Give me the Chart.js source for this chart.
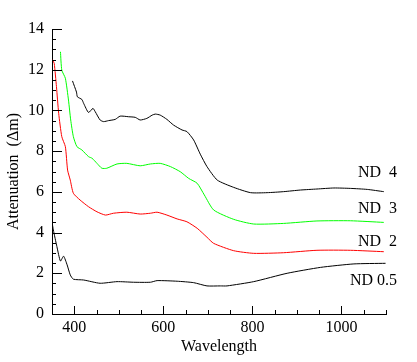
<!DOCTYPE html>
<html>
<head>
<meta charset="utf-8">
<script src="https://cdn.jsdelivr.net/npm/chart.js@4/dist/chart.umd.min.js"></script>
<style>
  html, body { margin: 0; padding: 0; background: #fff; }
  #wrap { width: 417px; height: 362px; }
</style>
</head>
<body>
<div id="wrap"><canvas id="attChart"></canvas></div>
<script>
// ----- data -----
const nd4X = [396, 405, 407, 417, 421, 432, 442, 447, 458, 466, 477, 492, 503, 522, 537, 548, 563, 575, 582, 593, 608, 623, 642, 653, 668, 683, 698, 721, 758, 796, 833, 870, 908, 945, 983, 1020, 1058, 1095];
const nd4Y = [11.45, 10.9, 10.67, 10.54, 10.35, 9.9, 10.1, 9.94, 9.53, 9.45, 9.5, 9.56, 9.72, 9.69, 9.66, 9.53, 9.61, 9.77, 9.82, 9.77, 9.56, 9.28, 9.04, 8.96, 8.55, 7.85, 7.24, 6.58, 6.22, 5.96, 5.96, 6.01, 6.09, 6.14, 6.19, 6.17, 6.12, 6.01];

const nd3X = [369, 372, 380, 387, 392, 398, 406, 417, 432, 440, 451, 462, 473, 496, 518, 548, 571, 593, 616, 638, 657, 676, 692, 713, 758, 803, 870, 945, 1020, 1095];
const nd3Y = [12.88, 11.98, 11.58, 10.51, 9.53, 8.71, 8.22, 8.06, 7.73, 7.65, 7.4, 7.16, 7.16, 7.37, 7.4, 7.28, 7.37, 7.4, 7.24, 6.99, 6.66, 6.42, 5.85, 5.11, 4.65, 4.42, 4.45, 4.57, 4.58, 4.5];

const nd2X = [350, 352, 355, 360, 365, 372, 380, 385, 391, 398, 413, 432, 451, 470, 488, 518, 548, 571, 586, 608, 631, 653, 676, 698, 713, 758, 803, 870, 945, 1020, 1095];
const nd2Y = [12.5, 12.45, 12.31, 11.17, 9.86, 8.71, 8.22, 7.07, 6.58, 5.93, 5.6, 5.27, 5.02, 4.86, 4.95, 5.0, 4.91, 4.95, 5.0, 4.86, 4.67, 4.53, 4.21, 3.77, 3.47, 3.11, 2.98, 3.01, 3.13, 3.13, 3.06];

const nd05X = [350, 353, 361, 369, 376, 384, 391, 398, 421, 458, 496, 533, 571, 586, 631, 668, 698, 728, 743, 803, 878, 953, 1028, 1099];
const nd05Y = [4.53, 4.13, 3.31, 2.6, 2.84, 2.41, 1.92, 1.71, 1.67, 1.51, 1.59, 1.56, 1.56, 1.64, 1.61, 1.54, 1.38, 1.38, 1.38, 1.59, 2.0, 2.29, 2.46, 2.49];

// curve labels at the right end, and the attenuation level they sit at
const endLabels = ['ND  4', 'ND  3', 'ND  2', 'ND 0.5'];
const endLabelY = [6.93, 5.16, 3.54, 1.62];

const pts = (xs, ys) => xs.map((x, i) => ({ x: x, y: ys[i] }));
const serif = "'Liberation Serif', 'Times New Roman', serif";

// inward tick marks (long at labelled values) + curve labels
const tickMarks = {
  id: 'tickMarks',
  afterDraw(chart) {
    const ctx = chart.ctx;
    const sx = chart.scales.x, sy = chart.scales.y;
    const area = chart.chartArea;
    ctx.save();
    ctx.strokeStyle = '#000000';
    ctx.lineWidth = 1;
    ctx.beginPath();
    for (let v = 350; v <= 1100; v += 50) {
      const px = Math.round(sx.getPixelForValue(v)) + 0.5;
      const len = v % 200 === 0 ? 8 : 4;
      ctx.moveTo(px, area.bottom);
      ctx.lineTo(px, area.bottom - len);
    }
    for (let v = 0; v <= 14; v += 0.5) {
      const py = Math.round(sy.getPixelForValue(v)) + 0.5;
      const len = v % 2 === 0 ? 10 : 4;
      ctx.moveTo(area.left, py);
      ctx.lineTo(area.left + len, py);
    }
    ctx.stroke();

    ctx.fillStyle = '#000000';
    ctx.font = '16px ' + serif;
    ctx.textAlign = 'right';
    ctx.textBaseline = 'middle';
    endLabels.forEach((txt, i) => {
      ctx.fillText(txt, area.right + 11, sy.getPixelForValue(endLabelY[i]));
    });
    ctx.restore();
  }
};

new Chart(document.getElementById('attChart'), {
  type: 'line',
  data: {
    datasets: [
      { label: 'ND 4', data: pts(nd4X, nd4Y), borderColor: '#000000' },
      { label: 'ND 3', data: pts(nd3X, nd3Y), borderColor: '#00ff00' },
      { label: 'ND 2', data: pts(nd2X, nd2Y), borderColor: '#ff0000' },
      { label: 'ND 0.5', data: pts(nd05X, nd05Y), borderColor: '#000000' }
    ]
  },
  options: {
    responsive: true,
    maintainAspectRatio: false,
    animation: false,
    parsing: false,
    elements: {
      line: { borderWidth: 1, tension: 0.2, fill: false },
      point: { radius: 0 }
    },
    layout: { padding: { left: 4, right: 31, top: 29, bottom: 0 } },
    plugins: { legend: { display: false }, tooltip: { enabled: false } },
    scales: {
      x: {
        type: 'linear',
        min: 350,
        max: 1100,
        grid: { display: false, drawTicks: false },
        border: { display: true, color: '#000', width: 1 },
        ticks: {
          stepSize: 50,
          autoSkip: false,
          maxRotation: 0,
          padding: 4,
          color: '#000',
          font: { family: serif, size: 16 },
          callback: v => (v % 200 === 0 ? String(v) : '')
        },
        title: {
          display: true,
          text: 'Wavelength',
          color: '#000',
          padding: { top: 0, bottom: 6 },
          font: { family: serif, size: 16 }
        },
        afterFit: s => { s.height = 48; }
      },
      y: {
        min: 0,
        max: 14,
        grid: { display: false, drawTicks: false },
        border: { display: true, color: '#000', width: 1 },
        ticks: {
          stepSize: 0.5,
          autoSkip: false,
          padding: 8,
          color: '#000',
          font: { family: serif, size: 16 },
          callback: v => (v % 2 === 0 ? String(v) : '')
        },
        title: {
          display: true,
          text: 'Attenuation  (\u0394m)',
          color: '#000',
          padding: { top: 0, bottom: 2 },
          font: { family: serif, size: 16 }
        },
        afterFit: s => { s.width = 48; }
      }
    }
  },
  plugins: [tickMarks]
});
</script>
</body>
</html>
